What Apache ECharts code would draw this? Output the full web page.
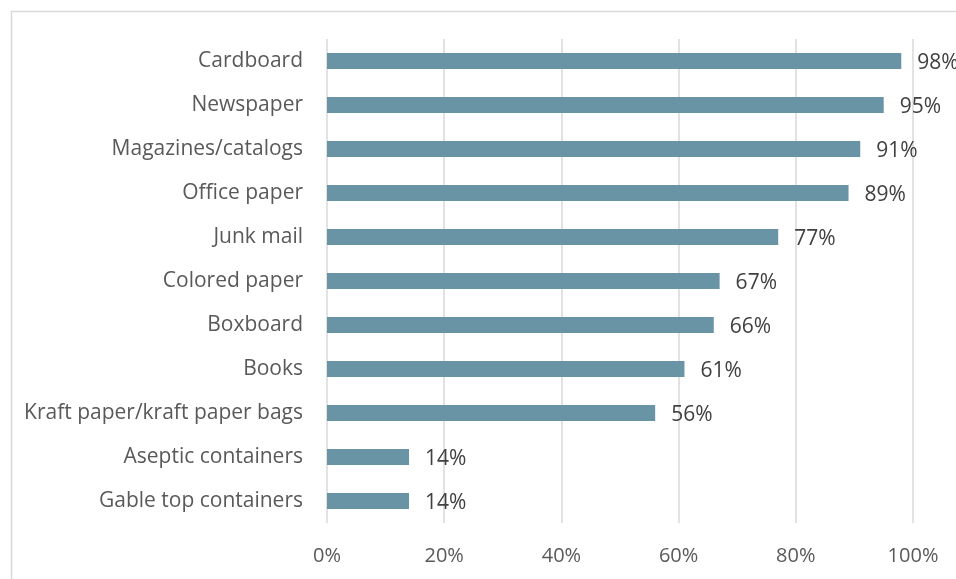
<!DOCTYPE html>
<html>
<head>
<meta charset="utf-8">
<script src="https://cdn.jsdelivr.net/npm/echarts@6/dist/echarts.min.js"></script>
<style>
  html, body { margin: 0; padding: 0; background: #ffffff; }
  #chart { width: 956px; height: 579px; }
</style>
</head>
<body>
<div id="chart"></div>
<script>
const categories = [
  'Cardboard',
  'Newspaper',
  'Magazines/catalogs',
  'Office paper',
  'Junk mail',
  'Colored paper',
  'Boxboard',
  'Books',
  'Kraft paper/kraft paper bags',
  'Aseptic containers',
  'Gable top containers'
]
const shares = [98, 95, 91, 89, 77, 67, 66, 61, 56, 14, 14]
const xTicks = [0, 20, 40, 60, 80, 100]

const fontFamily = 'Open Sans, Noto Sans, sans-serif'

const chart = echarts.init(document.getElementById('chart'))
chart.setOption({
  animation: false,
  graphic: [{
    type: 'rect',
    left: 9,
    top: 9,
    shape: { width: 960, height: 580 },
    style: { fill: 'none', stroke: '#d9d9d9', lineWidth: 1.5 },
    silent: true
  }],
  grid: {
    left: 327,
    right: 43,
    top: 39,
    bottom: 56
  },
  xAxis: {
    type: 'value',
    min: xTicks[0],
    max: xTicks[xTicks.length - 1],
    interval: xTicks[1] - xTicks[0],
    axisLine: { show: false },
    axisTick: { show: false },
    splitLine: { lineStyle: { color: '#d9d9d9', width: 1.5 } },
    axisLabel: {
      formatter: '{value}%',
      color: '#595959',
      fontSize: 20,
      fontFamily,
      margin: 23
    }
  },
  yAxis: {
    type: 'category',
    data: categories,
    inverse: true,
    axisLine: { show: false },
    axisTick: { show: false },
    axisLabel: {
      color: '#595959',
      fontSize: 21,
      fontFamily,
      margin: 24
    }
  },
  series: [{
    type: 'bar',
    data: shares,
    barWidth: 16,
    itemStyle: { color: '#6894a5' },
    label: {
      show: true,
      position: 'right',
      distance: 16,
      offset: [0, 2],
      formatter: '{c}%',
      color: '#404040',
      fontSize: 21,
      fontFamily
    }
  }]
})
</script>
</body>
</html>
